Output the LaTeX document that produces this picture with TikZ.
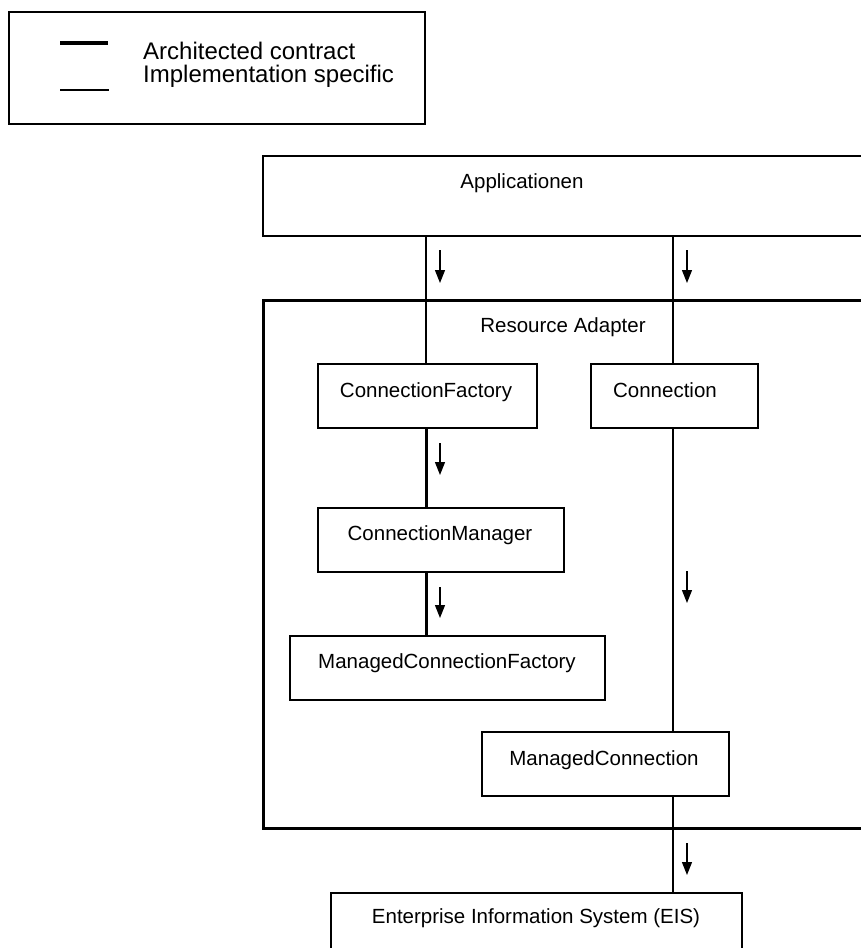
\documentclass[tikz,border=0pt]{standalone}
\usepackage{fontspec}
\setmainfont{Liberation Sans}
\usetikzlibrary{arrows.meta}
\begin{document}
\begin{tikzpicture}[x=1pt,y=-1pt,
  box/.style={draw,line width=1.5pt,inner sep=0pt,anchor=north west},
  lbl/.style={anchor=base,inner sep=0pt,font=\fontsize{20.5}{24}\selectfont},
  legendtext/.style={anchor=base west,inner sep=0pt,font=\fontsize{24}{24}\selectfont},
  impl/.style={line width=1.3pt},
  arch/.style={line width=3pt},
  flow/.style={line width=1.3pt,-{Triangle[length=13pt,width=10pt]}}]
\useasboundingbox (0,0) rectangle (861,948);
\clip (0,0) rectangle (861,948);

% legend
\node[box,minimum width=416pt,minimum height=112pt] (legend) at (8,11) {};
\coordinate (la) at (60,43);
\coordinate (lb) at (108,43);
\coordinate (lc) at (60,90);
\coordinate (ld) at (109,90);
\draw[line width=3.5pt] (la) -- (lb);
\draw[impl] (lc) -- (ld);
\node[legendtext] (t1) at (143,59) {Architected contract};
\node[legendtext] (t2) at (143,82) {Implementation specific};

% boxes (the outer two run past the right edge)
\node[box,minimum width=700pt,minimum height=80pt] (app) at (262,155) {};
\node[box,line width=2.5pt,minimum width=700pt,minimum height=528pt] (ra) at (262,299) {};
\node[box,minimum width=219pt,minimum height=64pt] (cf) at (317,363) {};
\node[box,minimum width=167pt,minimum height=64pt] (conn) at (590,363) {};
\node[box,minimum width=246pt,minimum height=64pt] (cm) at (317,507) {};
\node[box,minimum width=315pt,minimum height=64pt] (mcf) at (289,635) {};
\node[box,minimum width=247pt,minimum height=64pt] (mc) at (481,731) {};
\node[box,minimum width=411pt,minimum height=80pt] (eis) at (330,892) {};

% box labels
\node[lbl] (appl) at (522,188) {Applicationen};
\node[lbl] (ral) at (563,332) {Resource Adapter};
\node[lbl] (cfl) at (426,397) {ConnectionFactory};
\node[lbl] (connl) at (665,397) {Connection};
\node[lbl] (cml) at (440,540) {ConnectionManager};
\node[lbl] (mcfl) at (447,668) {ManagedConnectionFactory};
\node[lbl] (mcl) at (604,765) {ManagedConnection};
\node[lbl] (eisl) at (536,923) {Enterprise Information System (EIS)};

% connectors
\coordinate (lx) at (426,0);
\coordinate (rx) at (673,0);
\draw[impl] (lx |- app.south) -- (lx |- cf.north);
\draw[impl] (rx |- app.south) -- (rx |- conn.north);
\draw[impl] (rx |- conn.south) -- (rx |- mc.north);
\draw[impl] (rx |- mc.south) -- (rx |- eis.north);
\draw[arch] (lx |- cf.south) -- (lx |- cm.north);
\draw[arch] (lx |- cm.south) -- (lx |- mcf.north);

% direction arrows
\coordinate (a1s) at (440,250); \coordinate (a1e) at (440,283);
\coordinate (a2s) at (687,250); \coordinate (a2e) at (687,283);
\coordinate (a3s) at (440,443); \coordinate (a3e) at (440,475);
\coordinate (a4s) at (440,587); \coordinate (a4e) at (440,618);
\coordinate (a5s) at (687,571); \coordinate (a5e) at (687,603);
\coordinate (a6s) at (687,843); \coordinate (a6e) at (687,875);
\draw[flow] (a1s) -- (a1e);
\draw[flow] (a2s) -- (a2e);
\draw[flow] (a3s) -- (a3e);
\draw[flow] (a4s) -- (a4e);
\draw[flow] (a5s) -- (a5e);
\draw[flow] (a6s) -- (a6e);
\end{tikzpicture}
\end{document}
